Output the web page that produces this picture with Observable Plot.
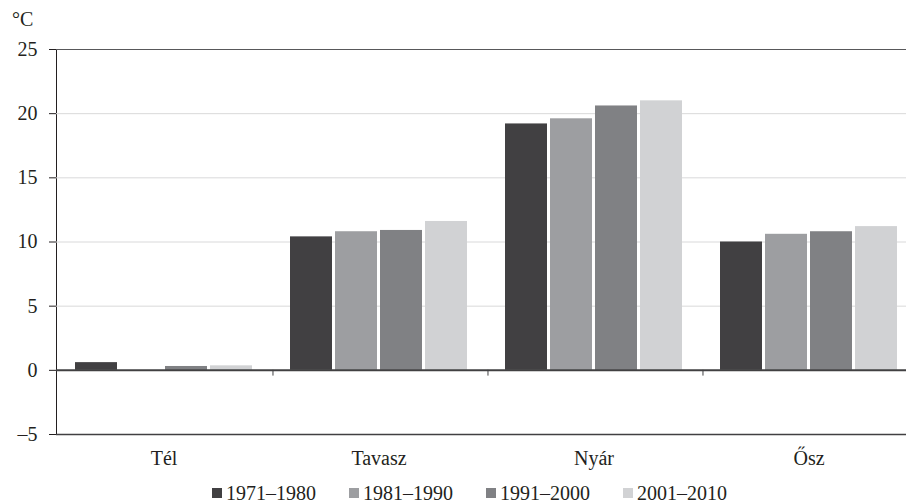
<!DOCTYPE html>
<html><head><meta charset="utf-8">
<script src="https://cdn.jsdelivr.net/npm/d3@7"></script>
<script src="https://cdn.jsdelivr.net/npm/@observablehq/plot@0.6"></script>
<style>
body{margin:0;background:#fff;font-family:"Liberation Serif",serif;color:#231f20;}
#wrap{position:relative;width:906px;height:504px;overflow:hidden;}
#unit{position:absolute;left:12px;top:9px;font-size:20px;line-height:20px;}
#legend{position:absolute;top:482px;left:212px;display:flex;font-size:20px;line-height:22px;white-space:nowrap;}
#legend .item{display:flex;align-items:center;margin-right:33px;}
#legend .sw{width:10px;height:10px;margin-right:4px;}
</style>
</head><body>
<div id="wrap"><div id="chart"></div><div id="unit">°C</div><div id="legend"></div></div>
<script>
const seasons = ["Tél", "Tavasz", "Nyár", "Ősz"];
const periods = ["1971–1980", "1981–1990", "1991–2000", "2001–2010"];
const p1971_1980 = [0.6, 10.4, 19.2, 10.0];
const p1981_1990 = [0.0, 10.8, 19.6, 10.6];
const p1991_2000 = [0.3, 10.9, 20.6, 10.8];
const p2001_2010 = [0.35, 11.6, 21.0, 11.2];
const colors = ["#414042", "#9d9ea1", "#808184", "#d1d2d4"];
const yTicks = [-5, 0, 5, 10, 15, 20, 25];
const gridTicks = [5, 10, 15, 20];

const series = [p1971_1980, p1981_1990, p1991_2000, p2001_2010];
const data = seasons.flatMap((s, i) => periods.map((p, j) => ({season: s, period: p, value: series[j][i]})));

const W = 906, marginLeft = 56, marginRight = -10;
const padIn = 0.065, padOut = 0.37;
const facetW = (W - marginLeft - marginRight) / seasons.length;
const step = facetW / (periods.length - padIn + 2 * padOut);
const bw = step * (1 - padIn);
const boundaryDx = -(padOut * step + bw / 2);

const chart = Plot.plot({
  width: W, height: 476,
  marginLeft, marginRight, marginTop: 49, marginBottom: 42,
  style: {fontFamily: "Liberation Serif, serif", fontSize: "20px", color: "#231f20", background: "white"},
  fx: {domain: seasons, padding: 0, tickSize: 0, tickPadding: 16, label: null},
  x: {domain: periods, paddingInner: padIn, paddingOuter: padOut, axis: null},
  y: {domain: [-5, 25], ticks: yTicks, tickSize: 7, tickPadding: 12, line: true, label: null,
      tickFormat: d => d < 0 ? "–" + Math.abs(d) : String(d)},
  color: {domain: periods, range: colors},
  marks: [
    Plot.ruleY(gridTicks, {stroke: "#d9d9da", strokeWidth: 1}),
    Plot.ruleY([25], {stroke: "#58585a", strokeWidth: 1}),
    Plot.ruleY([-5], {stroke: "#414042", strokeWidth: 1.5}),
    Plot.barY(data, {fx: "season", x: "period", y: "value", fill: "period"}),
    Plot.ruleY([0], {stroke: "#414042", strokeWidth: 2}),
    Plot.ruleX(seasons.slice(1), {fx: d => d, x: () => periods[0], y1: 0, y2: -0.45, dx: boundaryDx, stroke: "#414042", strokeWidth: 1})
  ]
});
document.getElementById("chart").appendChild(chart);

const legend = document.getElementById("legend");
periods.forEach((p, i) => {
  const it = document.createElement("div"); it.className = "item";
  const sw = document.createElement("span"); sw.className = "sw"; sw.style.background = colors[i];
  const t = document.createElement("span"); t.textContent = p;
  it.appendChild(sw); it.appendChild(t); legend.appendChild(it);
});
</script>
</body></html>
